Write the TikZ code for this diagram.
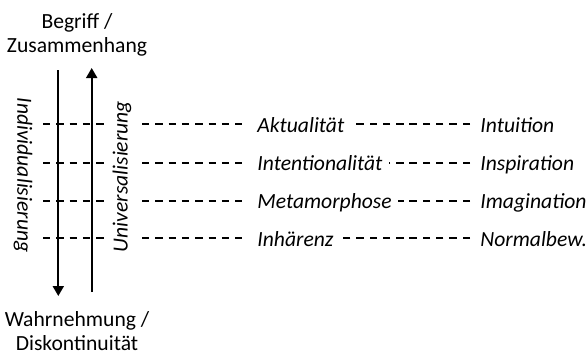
\documentclass[tikz,border=0pt]{standalone}
\usepackage{fontspec}
\setmainfont{Carlito}
\usetikzlibrary{arrows.meta}

\begin{document}
\begin{tikzpicture}[x=0.5pt,y=-0.5pt,
  every node/.style={font=\fontsize{10.8}{12}\selectfont, inner sep=0pt},
  stage/.style={font=\fontsize{10.8}{12}\selectfont\itshape, anchor=west, inner sep=3pt,
    text height=9pt, text depth=1.3pt},
  guide/.style={line width=1pt, dash pattern=on 3.7pt off 2.95pt},
  axis/.style={line width=1pt, -{Triangle[length=5pt,width=5.5pt]}}]
\useasboundingbox (0,0) rectangle (587,359);
% poles
\node[align=center] (begriff) at (77,35) {Begriff /\\Zusammenhang};
\node[align=center] (wahrnehmung) at (77,331) {Wahrnehmung /\\Diskontinuität};
% the two directions
\coordinate (downtop) at (58.3,70);
\coordinate (downbot) at (58.3,296);
\coordinate (upbot) at (91.7,292);
\coordinate (uptop) at (91.7,68);
\draw[axis] (downtop) -- (downbot);
\draw[axis] (upbot) -- (uptop);
\node[font=\fontsize{10.8}{12}\selectfont\itshape, rotate=-90] (indiv) at (23,175) {Individualisierung};
\node[font=\fontsize{10.8}{12}\selectfont\itshape, rotate=90] (univ) at (122,176.5) {Universalisierung};
% levels
\foreach \y/\stagename/\faculty [count=\i] in {124.3/Aktualität/Intuition,
    162.5/Intentionalität/Inspiration, 200.7/Metamorphose/Imagination,
    238.3/Inhärenz/Normalbew.} {
  \coordinate (a\i) at (43,\y);
  \coordinate (b\i) at (107,\y);
  \coordinate (c\i) at (142,\y);
  \node[stage] (mid\i) at (251,\y) {\stagename};
  \node[stage] (right\i) at (474,\y) {\faculty};
  \draw[guide] (a\i) -- (b\i);
  \draw[guide, shorten >=4.5pt] (c\i) -- (mid\i);
  \draw[guide, shorten <=2pt] (right\i) -- (mid\i);
}
\end{tikzpicture}
\end{document}
